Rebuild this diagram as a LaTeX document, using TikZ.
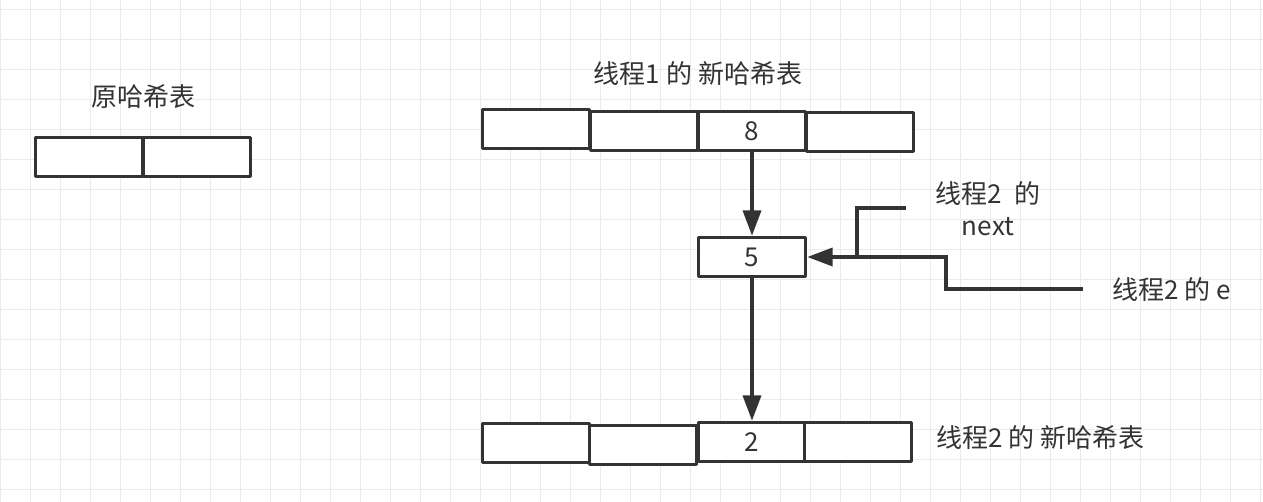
\documentclass[tikz,border=0pt]{standalone}
\usepackage{fontspec}
\setmainfont{Noto Sans CJK SC}
\usetikzlibrary{arrows.meta}
\definecolor{ink}{HTML}{333333}
\definecolor{gridc}{HTML}{EBEBEB}
\begin{document}
\begin{tikzpicture}[x=0.75pt,y=-0.75pt,
  cell/.style={draw=ink,line width=2.7pt,line join=round,fill=white,minimum width=80.25pt,minimum height=29.25pt,inner sep=0pt,font=\fontsize{19.5}{22}\selectfont,text=ink},
  lbl/.style={font=\fontsize{19.5}{24}\selectfont,text=ink,inner sep=0pt},
  conn/.style={draw=ink,line width=2.7pt,-{Triangle[length=19pt,width=13.5pt]}},
  wire/.style={draw=ink,line width=2.7pt}]
\useasboundingbox[fill=white] (0,0) rectangle (1263,502);
% grid
\foreach \gx in {0,...,42} {\draw[gridc,line width=0.75pt] (0.7+30*\gx,0) -- (0.7+30*\gx,502);}
\foreach \gy in {0,...,16} {\draw[gridc,line width=0.75pt] (0,9.3+30*\gy) -- (1263,9.3+30*\gy);}
% original table
\node[lbl] (torig) at (143,97) {原哈希表};
\node[cell] (o1) at (89,157) {};
\node[cell] (o2) at (197,157) {};
% thread 1 table
\node[lbl] (t1) at (698,74) {线程1 的 新哈希表};
\node[cell] (a1) at (536,129) {};
\node[cell] (a2) at (644,131) {};
\node[cell] (a3) at (752,131) {8};
\node[cell] (a4) at (860,132) {};
% node 5
\node[cell] (n5) at (752,257) {5};
% thread 2 table
\node[cell] (b1) at (536,443) {};
\node[cell] (b2) at (643,445) {};
\node[cell] (b3) at (752,442) {2};
\node[cell] (b4) at (858,442) {};
\node[lbl,anchor=west] (t2) at (936,438) {线程2 的 新哈希表};
% labels
\node[lbl,align=center] (tnext) at (988,209) {线程2\ \ 的\\next};
\node[lbl,anchor=west] (te) at (1112,290) {线程2 的 e};
% connectors
\draw[conn] (a3.south) -- (n5.north);
\draw[conn] (n5.south) -- (b3.north);
\coordinate (ne) at (906,208);
\coordinate (ee) at (1083,289);
\draw[wire] (ne) -- ++(-49,0) -- ++(0,49);
\draw[conn] (ee) -- ++(-137,0) |- (n5.east);
\end{tikzpicture}
\end{document}
